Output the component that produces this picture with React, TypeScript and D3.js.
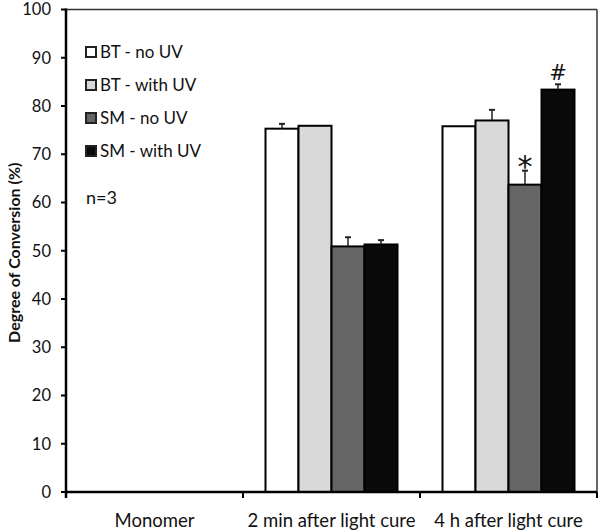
import * as d3 from 'd3';

const W = 601;
const H = 531;
const M = { top: 9.5, right: 4, bottom: 39, left: 66 };

const categories = ['Monomer', '2 min after light cure', '4 h after light cure'];
const seriesNames = ['BT - no UV', 'BT - with UV', 'SM - no UV', 'SM - with UV'];
const seriesColors = ['#ffffff', '#d9d9d9', '#656565', '#0a0a0a'];

// values per series, one per category (null = no bar)
const btNoUv = [null, 75.3, 75.8];
const btWithUv = [null, 75.9, 77.0];
const smNoUv = [null, 50.9, 63.7];
const smWithUv = [null, 51.3, 83.4];
const seriesValues = [btNoUv, btWithUv, smNoUv, smWithUv];

// upper error bars
const btNoUvErr = [null, 1.0, 0];
const btWithUvErr = [null, 0, 2.2];
const smNoUvErr = [null, 1.9, 2.9];
const smWithUvErr = [null, 0.9, 1.1];
const seriesErrors = [btNoUvErr, btWithUvErr, smNoUvErr, smWithUvErr];

// significance marks: [category index, series index, label]
const marks: [number, number, string][] = [
  [2, 2, '*'],
  [2, 3, '#'],
];

const yTicks = [0, 10, 20, 30, 40, 50, 60, 70, 80, 90, 100];

const FONT = 'Lato, "Open Sans", sans-serif';

export default function App() {
  const x = d3.scaleBand<string>().domain(categories).range([M.left, W - M.right]).padding(0);
  const groupPad = 22.5;
  const xs = d3
    .scaleBand<string>()
    .domain(seriesNames)
    .range([groupPad, x.bandwidth() - groupPad])
    .padding(0);
  const y = d3.scaleLinear().domain([0, 100]).range([H - M.bottom, M.top]);

  const x0 = M.left;
  const x1 = W - M.right;
  const y0 = y(0);
  const yTop = y(100);

  const bars: JSX.Element[] = [];
  const errs: JSX.Element[] = [];
  categories.forEach((cat, ci) => {
    seriesNames.forEach((s, si) => {
      const v = seriesValues[si][ci];
      if (v == null) return;
      const bx = (x(cat) ?? 0) + (xs(s) ?? 0);
      bars.push(
        <rect
          key={`b${ci}-${si}`}
          x={bx}
          y={y(v)}
          width={xs.bandwidth()}
          height={y0 - y(v)}
          fill={seriesColors[si]}
          stroke="#000"
          strokeWidth={2}
        />,
      );
      const e = seriesErrors[si][ci];
      if (e) {
        const cx = bx + xs.bandwidth() / 2;
        errs.push(
          <g key={`e${ci}-${si}`} stroke="#222" strokeWidth={1.5}>
            <line x1={cx} x2={cx} y1={y(v)} y2={y(v + e)} />
            <line x1={cx - 3} x2={cx + 3} y1={y(v + e)} y2={y(v + e)} strokeWidth={2} />
          </g>,
        );
      }
    });
  });

  return (
    <svg
      width={W}
      height={H}
      style={{ position: 'absolute', left: 0, top: 0, background: '#fff' }}
      fontFamily={FONT}
    >
      {/* frame */}
      <line x1={x0} x2={x1} y1={yTop} y2={yTop} stroke="#333" strokeWidth={1.5} />
      <line x1={x1} x2={x1} y1={yTop} y2={y0 + 6} stroke="#333" strokeWidth={1.5} />

      {bars}
      {errs}

      {marks.map(([ci, si, label]) => {
        const cat = categories[ci];
        const s = seriesNames[si];
        const v = (seriesValues[si][ci] ?? 0) + (seriesErrors[si][ci] ?? 0);
        const cx = (x(cat) ?? 0) + (xs(s) ?? 0) + xs.bandwidth() / 2;
        return (
          <text
            key={label}
            x={cx}
            y={y(v) - (label === '*' ? -6 : 4)}
            textAnchor="middle"
            fontSize={label === '*' ? 30 : 21}
            fontFamily="DejaVu Sans, sans-serif"
            fill="#111"
          >
            {label}
          </text>
        );
      })}

      {/* y axis */}
      <line x1={x0} x2={x0} y1={yTop - 1} y2={y0 + 6} stroke="#000" strokeWidth={2.5} />
      {yTicks.map((t) => (
        <g key={t}>
          <line x1={x0 - 5} x2={x0} y1={y(t)} y2={y(t)} stroke="#000" strokeWidth={2} />
          <text x={x0 - 15} y={y(t)} dy="0.35em" textAnchor="end" fontSize={16.5} fill="#111">
            {t}
          </text>
        </g>
      ))}
      <text
        transform={`translate(14, ${(y0 + yTop) / 2 + 2}) rotate(-90)`}
        textAnchor="middle"
        dy="0.35em"
        fontSize={16}
        fontWeight="bold"
        fill="#111"
      >
        Degree of Conversion (%)
      </text>

      {/* x axis */}
      <line x1={x0} x2={x1} y1={y0} y2={y0} stroke="#000" strokeWidth={2.5} />
      {categories.map((c) => (
        <line
          key={`t${c}`}
          x1={(x(c) ?? 0) + x.bandwidth()}
          x2={(x(c) ?? 0) + x.bandwidth()}
          y1={y0}
          y2={y0 + 6}
          stroke="#000"
          strokeWidth={2}
        />
      ))}
      {categories.map((c) => (
        <text
          key={`l${c}`}
          x={(x(c) ?? 0) + x.bandwidth() / 2}
          y={y0 + 35}
          textAnchor="middle"
          fontSize={18.5}
          fill="#111"
        >
          {c}
        </text>
      ))}

      {/* legend */}
      {seriesNames.map((s, i) => (
        <g key={`lg${s}`} transform={`translate(86, ${52 + i * 33})`}>
          <rect x={0} y={-5} width={10} height={10} fill={seriesColors[i]} stroke="#222" strokeWidth={2} />
          <text x={14} y={0} dy="0.36em" fontSize={17} fill="#111">
            {s}
          </text>
        </g>
      ))}
      <text x={86} y={198} dy="0.36em" fontSize={18} fill="#111">
        n=3
      </text>
    </svg>
  );
}
